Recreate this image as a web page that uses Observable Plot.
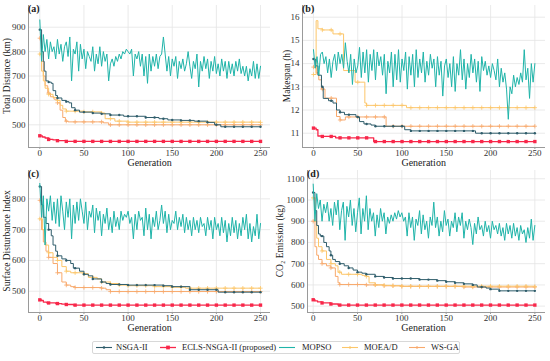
<!DOCTYPE html>
<html><head><meta charset="utf-8">
<script src="https://cdn.jsdelivr.net/npm/d3@7"></script>
<script src="https://cdn.jsdelivr.net/npm/@observablehq/plot@0.6"></script>
<style>
body{margin:0;background:#fff;font-family:"Liberation Serif","Times New Roman",serif;color:#222;}
#wrap{position:relative;width:550px;height:361px;overflow:hidden;background:#fff;}
.panel{position:absolute;z-index:1;}
.panel text{font-family:"Liberation Serif","Times New Roman",serif !important;}
.plab{position:absolute;font-weight:bold;font-size:10px;line-height:10px;z-index:2;}
.xt{position:absolute;font-size:10px;line-height:10px;transform:translateX(-50%);white-space:nowrap;z-index:2;}
.yt{position:absolute;font-size:9.5px;line-height:10px;white-space:nowrap;transform:translate(-50%,-50%) rotate(-90deg);z-index:2;}
#legend{position:absolute;left:92px;top:341px;width:366px;height:11px;border:1px solid #d8d8d8;border-radius:2px;z-index:2;}
.li{position:absolute;top:0;font-size:8.5px;line-height:11px;white-space:nowrap;}
.ls{position:absolute;top:0;}
</style></head>
<body><div id="wrap"></div>
<script>
// ---------------- DATA ----------------
const generationTicks = [0, 50, 100, 150, 200, 250];
const mopsoGens = d3.range(0, 251, 2);
const markerGens = d3.range(0, 251, 10);
const seriesNames = ["NSGA-II", "ECLS-NSGA-II (proposed)", "MOPSO", "MOEA/D", "WS-GA"];
const colors = ["#2f5d6b", "#f8274a", "#1fb4a9", "#fcc66a", "#f8a96c"];
const panelLabels = ["(a)", "(b)", "(c)", "(d)"];
const yTitles = ["Total Distance (km)", "Makespan (h)", "Surface Disturbance Index", "CO\u2082 Emission (kg)"];

// (a) Total distance
const yTicksA = [500, 600, 700, 800, 900];
const mopsoA = [930,760,870,800,850,770,840,800,820,770,850,790,830,760,820,840,780,860,680,810,790,840,720,830,770,810,730,800,780,760,820,720,790,750,820,740,800,760,790,680,750,770,740,780,760,790,770,800,790,810,800,790,810,700,790,770,800,740,790,700,780,670,790,720,780,740,790,730,780,790,860,790,720,780,700,770,740,780,690,760,730,770,720,750,800,740,690,760,730,790,655,760,720,780,730,770,690,760,720,780,710,750,700,770,720,760,690,760,710,750,700,760,720,770,710,740,700,740,680,730,700,760,690,750,690,740];
const nsgaA = [[0,890],[2,800],[4,760],[5,720],[7,680],[10,675],[13,670],[15,640],[18,620],[20,610],[25,600],[30,595],[33,590],[36,570],[40,560],[45,552],[60,548],[70,545],[80,540],[95,535],[120,530],[135,525],[145,520],[160,518],[175,515],[190,510],[198,500],[205,492],[250,492]];
const eclsA = [[0,455],[3,450],[6,446],[10,440],[15,438],[20,435],[30,432],[250,432]];
const moeadA = [[0,790],[2,720],[4,680],[6,650],[10,625],[15,612],[20,600],[23,580],[26,565],[30,556],[50,553],[70,548],[74,525],[85,515],[100,511],[250,510]];
const wsgaA = [[0,855],[2,760],[4,700],[6,660],[9,630],[12,615],[16,605],[20,590],[23,560],[26,530],[29,515],[32,512],[65,512],[72,508],[78,500],[250,500]];

// (b) Makespan
const yTicksB = [11, 12, 13, 14, 15, 16];
const mopsoB = [14.6,13.8,14.3,13.5,14.4,14.5,14.0,14.3,13.6,14.2,13.4,14.1,14.4,13.7,14.5,14.0,14.4,13.8,14.9,14.1,13.6,14.4,13.1,14.2,13.6,13.9,14.7,13.4,14.5,13.6,14.6,13.2,14.4,13.7,14.6,13.3,14.5,13.9,14.3,13.5,14.4,12.7,14.1,13.6,14.5,13.0,14.4,13.3,14.6,13.2,14.2,13.7,14.5,12.9,14.3,13.5,14.4,13.0,14.6,13.4,14.2,13.6,14.5,13.2,14.1,13.5,14.4,13.8,14.2,13.0,14.3,13.5,14.1,12.6,13.9,14.2,13.4,14.0,13.0,14.3,12.8,14.0,13.5,14.6,13.3,14.2,12.9,14.0,13.4,14.4,13.6,14.2,13.2,14.1,12.8,14.3,13.7,14.1,13.5,13.9,13.4,14.0,13.7,13.3,14.2,13.0,13.8,13.2,13.6,12.9,11.6,13.0,12.7,13.5,13.0,13.4,13.1,13.6,13.2,14.6,13.3,13.8,12.5,14.0,13.2,14.0];
const nsgaB = [[0,14.2],[2,13.9],[5,13.5],[9,13.0],[11,12.5],[17,12.4],[22,12.3],[26,12.0],[30,11.9],[35,11.8],[48,11.7],[52,11.5],[57,11.4],[65,11.35],[70,11.3],[103,11.15],[110,11.1],[183,11.0],[250,11.0]];
const eclsB = [[0,11.22],[3,11.15],[5,10.88],[10,10.86],[25,10.8],[68,10.64],[250,10.64]];
const moeadB = [[0,13.53],[3,15.85],[5,15.5],[10,15.45],[22,15.28],[34,13.7],[47,13.2],[58,12.3],[60,12.2],[105,12.1],[250,12.1]];
const wsgaB = [[0,13.85],[3,13.6],[6,13.3],[9,12.9],[13,12.51],[26,11.72],[30,11.57],[36,11.7],[82,11.3],[250,11.3]];

// (c) Surface disturbance index
const yTicksC = [500, 600, 700, 800];
const mopsoC = [850,740,810,650,800,760,810,730,790,720,800,710,810,760,700,790,740,800,670,780,720,790,730,800,760,720,790,700,760,740,780,690,770,730,760,680,750,720,770,700,740,690,760,710,740,700,760,730,750,740,760,720,740,670,750,700,760,730,740,680,770,700,750,670,740,710,760,700,730,780,720,760,690,750,700,730,720,760,700,740,710,750,690,740,700,730,680,740,700,730,690,740,710,720,680,740,700,730,670,740,700,720,680,740,690,730,660,720,680,740,690,730,670,720,680,740,700,750,670,720,660,710,680,750,670,720];
const nsgaC = [[0,840],[2,780],[4,740],[7,720],[10,700],[13,680],[15,650],[18,630],[20,615],[25,605],[30,600],[35,590],[38,575],[45,565],[50,555],[55,550],[60,540],[70,530],[75,525],[80,522],[100,520],[140,518],[150,515],[170,505],[202,497],[250,497]];
const eclsC = [[0,472],[2,470],[4,465],[8,462],[18,460],[25,458],[30,457],[38,455],[250,455]];
const moeadC = [[0,735],[3,700],[6,650],[10,625],[15,610],[20,600],[25,580],[30,565],[35,560],[50,557],[55,545],[65,540],[70,530],[80,525],[90,520],[100,518],[130,515],[150,513],[165,510],[250,510]];
const wsgaC = [[0,795],[2,700],[4,660],[7,630],[10,610],[15,590],[20,560],[25,530],[30,520],[35,515],[40,512],[70,510],[75,505],[80,499],[250,499]];

// (d) CO2 emission
const yTicksD = [500, 600, 700, 800, 900, 1000, 1100];
const mopsoD = [1075,900,1030,960,1000,900,980,940,990,900,960,880,990,930,1000,860,950,990,810,970,920,1000,880,960,850,940,1010,840,960,900,1020,860,960,900,940,830,930,870,960,900,940,840,920,890,930,900,940,910,950,920,940,900,920,830,940,870,920,810,910,880,950,840,930,860,900,820,920,880,990,870,920,830,900,850,950,880,910,830,900,870,940,850,920,880,940,820,900,860,910,870,790,890,840,920,860,880,830,900,850,880,820,900,860,880,840,890,830,870,810,890,840,880,820,890,830,870,810,880,840,860,800,870,820,910,810,880];
const nsgaD = [[0,1035],[2,950],[4,880],[6,840],[8,830],[12,800],[15,780],[18,760],[20,740],[22,720],[25,710],[30,700],[35,690],[40,680],[45,670],[50,660],[55,655],[60,650],[70,640],[80,635],[90,630],[120,625],[140,620],[150,615],[160,610],[170,605],[180,600],[185,590],[195,585],[200,580],[210,572],[250,572]];
const eclsD = [[0,530],[2,525],[5,520],[10,515],[20,510],[28,505],[250,505]];
const moeadD = [[0,1010],[2,900],[4,820],[6,780],[10,760],[15,720],[20,700],[25,690],[28,660],[32,650],[55,645],[60,640],[63,610],[70,600],[80,598],[90,596],[100,594],[250,592]];
const wsgaD = [[0,900],[2,780],[4,740],[6,720],[10,700],[15,690],[20,680],[25,640],[28,610],[30,602],[60,600],[80,596],[100,593],[170,590],[250,590]];

// --------------- LAYOUT ---------------
const panels = [
  {left:0,   top:0,   ml:28, ydom:[407, 989],       xdom:[-12.8, 261.3], yt:yTicksA, mopso:mopsoA, step:[nsgaA, eclsA, moeadA, wsgaA], ytx:7},
  {left:275, top:0,   ml:27, ydom:[10.384, 16.504], xdom:[-12.4, 262],   yt:yTicksB, mopso:mopsoB, step:[nsgaB, eclsB, moeadB, wsgaB], ytx:287},
  {left:0,   top:165, ml:28, ydom:[431, 892],       xdom:[-12.8, 261.3], yt:yTicksC, mopso:mopsoC, step:[nsgaC, eclsC, moeadC, wsgaC], ytx:7},
  {left:275, top:165, ml:32, ydom:[470, 1139],      xdom:[-6.4, 262],    yt:yTicksD, mopso:mopsoD, step:[nsgaD, eclsD, moeadD, wsgaD], ytx:280}
];
const W = 275, H = 168, MT = 5, MB = 21, MR = 5;

function stepAt(s, g){ let v = s[0][1]; for (const [x, y] of s) if (x <= g) v = y; return v; }

const wrap = document.getElementById("wrap");

panels.forEach((p, i) => {
  const [nsga, ecls, moead, wsga] = p.step;
  const mop = p.mopso.map((v, k) => ({g: mopsoGens[k], v}));
  const stepLine = (s, c, w) => Plot.line(s, {x: d => d[0], y: d => d[1], curve: "step-after", stroke: c, strokeWidth: w});
  const mk = (s) => markerGens.map(g => ({g, v: stepAt(s, g)}));
  const chart = Plot.plot({
    width: W, height: H,
    marginLeft: p.ml, marginRight: MR, marginTop: MT, marginBottom: MB,
    style: {fontFamily: "'Liberation Serif', 'Times New Roman', serif", fontSize: "9px", color: "#333", background: "transparent"},
    x: {domain: p.xdom},
    y: {domain: p.ydom},
    marks: [
      Plot.gridY(p.yt, {stroke: "#e4e4e4", strokeOpacity: 1, strokeWidth: 0.8}),
      Plot.gridX(generationTicks, {stroke: "#e4e4e4", strokeOpacity: 1, strokeWidth: 0.8}),
      Plot.ruleX([p.xdom[0]], {stroke: "#9a9a9a", strokeWidth: 1}),
      Plot.ruleY([p.ydom[0]], {stroke: "#9a9a9a", strokeWidth: 1}),
      Plot.axisY(p.yt, {tickSize: 0, tickPadding: 3, label: null, fontSize: 9, tickFormat: d => String(d)}),
      Plot.axisX(generationTicks, {tickSize: 2, tickPadding: 0, label: null, fontSize: 9, stroke: "#9a9a9a", tickFormat: d => String(d)}),
      stepLine(wsga, colors[4], 1),
      stepLine(moead, colors[3], 1),
      Plot.dot(mk(wsga), {x: "g", y: "v", symbol: "plus", r: 1.5, stroke: colors[4], strokeWidth: 0.8}),
      Plot.dot(mk(moead), {x: "g", y: "v", symbol: "plus", r: 1.5, stroke: colors[3], strokeWidth: 0.8}),
      stepLine(nsga, colors[0], 1),
      Plot.dot(mk(nsga), {x: "g", y: "v", r: 1.2, fill: colors[0]}),
      Plot.line(mop, {x: "g", y: "v", stroke: colors[2], strokeWidth: 1}),
      stepLine(ecls, colors[1], 1.3),
      Plot.dot(mk(ecls), {x: "g", y: "v", symbol: "square", r: 1.9, fill: colors[1]})
    ]
  });
  chart.classList.add("panel");
  chart.style.left = p.left + "px";
  chart.style.top = p.top + "px";
  wrap.appendChild(chart);

  const lab = document.createElement("div");
  lab.className = "plab"; lab.textContent = panelLabels[i];
  lab.style.left = (p.left + p.ml) + "px"; lab.style.top = (p.top + 4) + "px";
  wrap.appendChild(lab);

  const xt = document.createElement("div");
  xt.className = "xt"; xt.textContent = "Generation";
  const cx = p.left + p.ml + (W - p.ml - MR) * (0 - p.xdom[0] + 125) / (p.xdom[1] - p.xdom[0]);
  xt.style.left = cx + "px"; xt.style.top = (p.top + 158) + "px";
  wrap.appendChild(xt);

  const yt = document.createElement("div");
  yt.className = "yt"; yt.textContent = yTitles[i];
  yt.style.left = p.ytx + "px"; yt.style.top = (p.top + (MT + H - MB) / 2) + "px";
  wrap.appendChild(yt);
});

// --------------- LEGEND ---------------
const legend = document.createElement("div");
legend.id = "legend";
wrap.appendChild(legend);
const sampleLeft = [3, 67, 186, 249, 316];
const textLeft = [23, 89, 209, 271, 338];
const markerSym = ["circle", "square", "circle", "plus", "plus"];
seriesNames.forEach((name, k) => {
  const svg = d3.create("svg").attr("class", "ls").attr("width", 16).attr("height", 11)
    .style("left", sampleLeft[k] + "px");
  svg.append("line").attr("x1", 0).attr("x2", 16).attr("y1", 5.5).attr("y2", 5.5)
    .attr("stroke", colors[k]).attr("stroke-width", k === 1 ? 1.3 : 1.1);
  const sym = d3.symbol(markerSym[k] === "square" ? d3.symbolSquare : markerSym[k] === "plus" ? d3.symbolCross : d3.symbolCircle, k === 1 ? 14 : 5)();
  svg.append("path").attr("d", sym).attr("transform", "translate(8,5.5)")
    .attr("fill", k === 2 ? "none" : colors[k]);
  legend.appendChild(svg.node());
  const t = document.createElement("div");
  t.className = "li"; t.textContent = name; t.style.left = textLeft[k] + "px";
  legend.appendChild(t);
});
</script>
</body></html>
